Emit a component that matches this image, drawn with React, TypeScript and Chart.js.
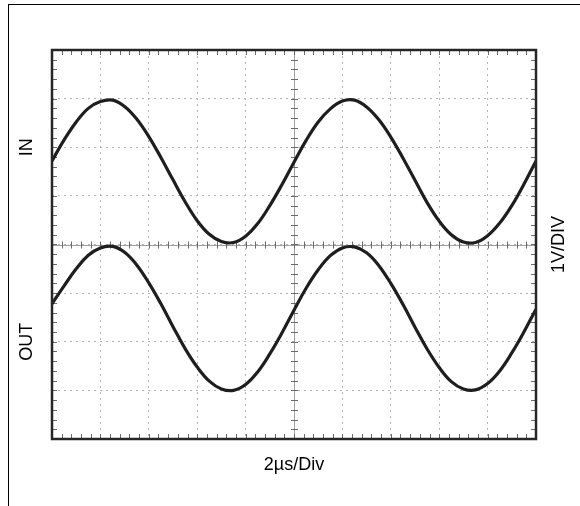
import React, { useEffect, useRef } from 'react';
import { Chart, registerables } from 'chart.js';

Chart.register(...registerables);

// Time axis (µs), 2 µs per division, 10 divisions
const timeUs = [
  0, 0.5, 1, 1.5, 2, 2.5, 3, 3.5, 4, 4.5,
  5, 5.5, 6, 6.5, 7, 7.5, 8, 8.5, 9, 9.5,
  10, 10.5, 11, 11.5, 12, 12.5, 13, 13.5, 14, 14.5,
  15, 15.5, 16, 16.5, 17, 17.5, 18, 18.5, 19, 19.5, 20,
];

// IN trace (V, screen divisions above centre line)
const inVolts = [
  1.72, 2.15, 2.52, 2.8, 2.94, 2.97, 2.84, 2.58, 2.22, 1.79,
  1.33, 0.88, 0.49, 0.21, 0.06, 0.04, 0.17, 0.43, 0.8, 1.23,
  1.69, 2.14, 2.52, 2.79, 2.95, 2.97, 2.83, 2.57, 2.21, 1.78,
  1.32, 0.86, 0.48, 0.2, 0.05, 0.04, 0.18, 0.44, 0.8, 1.24, 1.72,
];

// OUT trace (V, screen divisions below centre line)
const outVolts = [
  -1.22, -0.85, -0.5, -0.22, -0.07, -0.04, -0.16, -0.42, -0.79, -1.22,
  -1.69, -2.14, -2.52, -2.81, -2.97, -3.0, -2.88, -2.62, -2.25, -1.82,
  -1.35, -0.9, -0.52, -0.23, -0.07, -0.05, -0.17, -0.43, -0.8, -1.23,
  -1.7, -2.15, -2.53, -2.82, -2.97, -2.99, -2.86, -2.6, -2.23, -1.8, -1.33,
];

const channelLabels = ['IN', 'OUT'];
const channelLabelVolts = [2, -2];
const verticalScaleLabel = '1V/DIV';
const timeScaleLabel = '2µs/Div';

const xMin = 0;
const xMax = 20;
const xStep = 2;
const yMin = -4;
const yMax = 4;
const yStep = 1;
const minorPerDiv = 5;

const FONT = '18px "Liberation Sans", Arial, Helvetica, sans-serif';

const scopePlugin = {
  id: 'scopeDecor',
  beforeDatasetsDraw(chart: any) {
    const { ctx, chartArea } = chart;
    const xs = chart.scales.x;
    const ys = chart.scales.y;
    const { left, right, top, bottom } = chartArea;
    const cx = xs.getPixelForValue((xMin + xMax) / 2);
    const cy = ys.getPixelForValue((yMin + yMax) / 2);
    ctx.save();
    // centre lines
    ctx.strokeStyle = '#a0a0a0';
    ctx.lineWidth = 1;
    ctx.beginPath();
    ctx.moveTo(left, Math.round(cy) + 0.5);
    ctx.lineTo(right, Math.round(cy) + 0.5);
    ctx.moveTo(Math.round(cx) + 0.5, top);
    ctx.lineTo(Math.round(cx) + 0.5, bottom);
    ctx.stroke();
    // minor ticks on centre lines and borders
    ctx.strokeStyle = '#6a6a6a';
    ctx.beginPath();
    const xMinor = xStep / minorPerDiv;
    for (let v = xMin; v <= xMax + 1e-9; v += xMinor) {
      const px = Math.round(xs.getPixelForValue(v)) + 0.5;
      ctx.moveTo(px, cy - 3);
      ctx.lineTo(px, cy + 4);
      ctx.moveTo(px, top);
      ctx.lineTo(px, top + 5);
      ctx.moveTo(px, bottom);
      ctx.lineTo(px, bottom - 5);
    }
    const yMinor = yStep / minorPerDiv;
    for (let v = yMin; v <= yMax + 1e-9; v += yMinor) {
      const py = Math.round(ys.getPixelForValue(v)) + 0.5;
      ctx.moveTo(cx - 3, py);
      ctx.lineTo(cx + 4, py);
      ctx.moveTo(left, py);
      ctx.lineTo(left + 5, py);
      ctx.moveTo(right, py);
      ctx.lineTo(right - 5, py);
    }
    ctx.stroke();
    ctx.restore();
  },
  afterDatasetsDraw(chart: any) {
    const { ctx, chartArea } = chart;
    const xs = chart.scales.x;
    const ys = chart.scales.y;
    const { left, right, top, bottom } = chartArea;
    ctx.save();
    // plot border
    ctx.strokeStyle = '#262626';
    ctx.lineWidth = 2.5;
    ctx.strokeRect(left, top, right - left, bottom - top);
    // labels
    ctx.fillStyle = '#000';
    ctx.font = FONT;
    ctx.textAlign = 'center';
    ctx.textBaseline = 'middle';
    channelLabels.forEach((lab, i) => {
      ctx.save();
      ctx.translate(left - 25, ys.getPixelForValue(channelLabelVolts[i]));
      ctx.rotate(-Math.PI / 2);
      ctx.fillText(lab, 0, 0);
      ctx.restore();
    });
    ctx.save();
    ctx.translate(right + 23, ys.getPixelForValue(0));
    ctx.rotate(-Math.PI / 2);
    ctx.fillText(verticalScaleLabel, 0, 0);
    ctx.restore();
    ctx.fillText(timeScaleLabel, xs.getPixelForValue((xMin + xMax) / 2), bottom + 26);
    ctx.restore();
  },
};

export default function App() {
  const ref = useRef<HTMLCanvasElement | null>(null);

  useEffect(() => {
    if (!ref.current) return;
    const chart = new Chart(ref.current, {
      type: 'line',
      data: {
        datasets: [
          {
            label: channelLabels[0],
            data: timeUs.map((t, i) => ({ x: t, y: inVolts[i] })),
            borderColor: '#1e1e1e',
            borderWidth: 3.2,
            pointRadius: 0,
            tension: 0.4,
            fill: false,
          },
          {
            label: channelLabels[1],
            data: timeUs.map((t, i) => ({ x: t, y: outVolts[i] })),
            borderColor: '#1e1e1e',
            borderWidth: 3.2,
            pointRadius: 0,
            tension: 0.4,
            fill: false,
          },
        ],
      },
      options: {
        animation: false,
        responsive: false,
        devicePixelRatio: 1,
        layout: { padding: { left: 52, right: 44, top: 50, bottom: 67 } },
        plugins: { legend: { display: false }, tooltip: { enabled: false } },
        scales: {
          x: {
            type: 'linear',
            min: xMin,
            max: xMax,
            ticks: { display: false, stepSize: xStep },
            grid: { color: '#b4b4b4', lineWidth: 1, drawTicks: false },
            border: { display: false, dash: [2, 4] },
          },
          y: {
            type: 'linear',
            min: yMin,
            max: yMax,
            ticks: { display: false, stepSize: yStep },
            grid: { color: '#b4b4b4', lineWidth: 1, drawTicks: false },
            border: { display: false, dash: [2, 4] },
          },
        },
      },
      plugins: [scopePlugin],
    });
    return () => chart.destroy();
  }, []);

  return (
    <div style={{ position: 'fixed', left: 0, top: 0, width: 580, height: 506, background: '#fff' }}>
      <div
        style={{
          position: 'absolute',
          left: 8,
          top: 4,
          width: 572,
          height: 502,
          borderTop: '1px solid #000',
          borderLeft: '1px solid #000',
          boxSizing: 'border-box',
        }}
      />
      <canvas ref={ref} width={580} height={506} style={{ position: 'absolute', left: 0, top: 0, display: 'block' }} />
    </div>
  );
}
